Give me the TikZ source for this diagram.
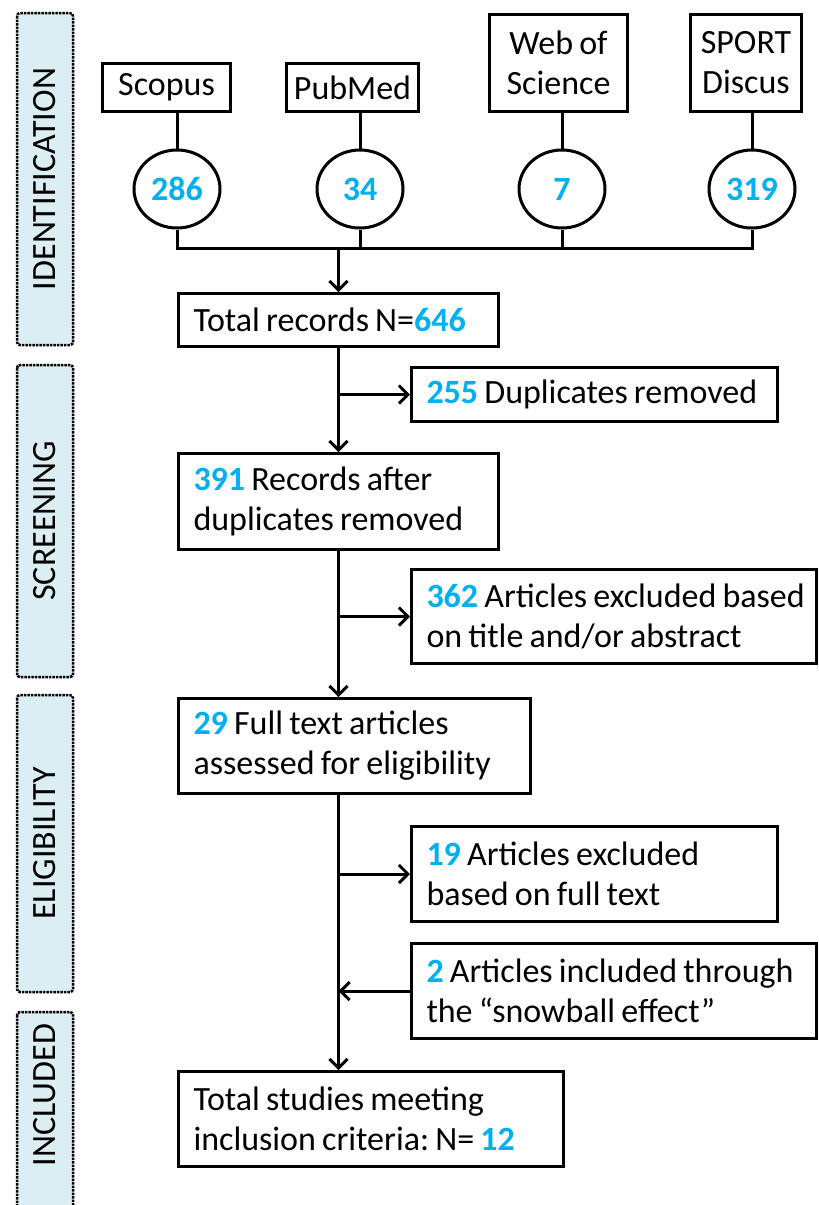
\documentclass[tikz,border=0pt]{standalone}
\usepackage{fontspec}
\setmainfont{Carlito}[WordSpace=0.8]
\frenchspacing
\usetikzlibrary{arrows.meta,shapes.geometric}
\definecolor{numblue}{HTML}{00B0F0}
\definecolor{phasefill}{HTML}{DAEEF3}
\newcommand{\nb}[1]{\textcolor{numblue}{\textbf{#1}}}
\tikzset{
  box/.style={draw, line width=3pt, anchor=north west, inner xsep=15pt, inner ysep=0pt, align=flush left},
  src/.style={draw, line width=3pt, anchor=north west, inner sep=0pt, align=center},
  count/.style={draw, ellipse, line width=3pt, minimum width=86pt, minimum height=78pt, inner sep=0pt},
  phase/.style={draw, densely dotted, line width=2.5pt, fill=phasefill, rounded corners=3pt, rotate=90, inner sep=0pt, font=\fontsize{34}{40}\selectfont},
}
\begin{document}
\begin{tikzpicture}[x=1pt, y=-1pt, line width=3pt, arrows={-Straight Barb[length=9pt,width=18pt]}, font=\fontsize{34}{40}\selectfont]
	\useasboundingbox (0,0) rectangle (819,1205);
	\node[phase, minimum width=332pt, minimum height=56pt] (P1) at (45,179) {IDENTIFICATION};
	\node[phase, minimum width=312pt, minimum height=56pt] (P2) at (45,521) {SCREENING};
	\node[phase, minimum width=297pt, minimum height=56pt] (P3) at (45,843.5) {ELIGIBILITY};
	\node[phase, minimum width=203pt, minimum height=56pt] (P4) at (45,1113.5) {};
	\node[rotate=90, font=\fontsize{34}{40}\selectfont] (P4t) at (45,1095) {INCLUDED};
	\node[src, minimum width=128pt, minimum height=48pt] (scopus) at (101,62) {Scopus};
	\node[src, minimum width=132pt, minimum height=48pt] (pubmed) at (285,62) {PubMed};
	\node[src, minimum width=138pt, minimum height=97pt] (wos) at (488,13) {Web of\\Science};
	\node[src, minimum width=111pt, minimum height=97pt] (sport) at (689,13) {SPORT\\Discus};
	\node[count] (n286) at (177,189) {\nb{286}};
	\node[count] (n34) at (360,189) {\nb{34}};
	\node[count] (n7) at (562,189) {\nb{7}};
	\node[count] (n319) at (752,189) {\nb{319}};
	\node[box, text width=290pt, minimum height=53pt] (total) at (177,292) {Total records N=\nb{646}};
	\node[box, text width=336pt, minimum height=54pt] (dup) at (410,366) {\nb{255} Duplicates removed};
	\node[box, text width=290pt, minimum height=96pt] (after) at (177,452) {\nb{391} Records after\\duplicates removed};
	\node[box, text width=375pt, minimum height=94pt] (title) at (410,568) {\mbox{\nb{362} Articles excluded based}\\on title and/or abstract};
	\node[box, text width=322pt, minimum height=95pt] (full) at (177,697) {\nb{29} Full text articles\\assessed for eligibility};
	\node[box, text width=336pt, minimum height=95pt] (fulltext) at (410,825) {\nb{19} Articles excluded\\based on full text};
	\node[box, text width=375pt, minimum height=95pt] (snow) at (410,942) {\mbox{\nb{2} Articles included through}\\the “snowball effect”};
	\node[box, text width=355pt, minimum height=95pt] (final) at (177,1070) {Total studies meeting\\inclusion criteria: N= \nb{12}};
	\path (total.north) ++(0,-44) coordinate (join);
	\draw[-] (scopus.south -| n286) -- (n286);
	\draw[-] (pubmed.south -| n34) -- (n34);
	\draw[-] (wos.south -| n7) -- (n7);
	\draw[-] (sport.south -| n319) -- (n319);
	\draw[-] (n286.south) |- (join) -| (n319.south);
	\draw[-] (n34.south) -- (n34.south |- join);
	\draw[-] (n7.south) -- (n7.south |- join);
	\draw (join) -- (total.north);
	\draw (total.south) -- (after.north);
	\draw (total.south |- dup.west) -- (dup.west);
	\draw (after.south) -- (after.south |- full.north);
	\draw (after.south |- title.west) -- (title.west);
	\draw (after.south |- full.south) -- (after.south |- final.north);
	\draw (after.south |- fulltext.west) -- (fulltext.west);
	\draw (snow.west) -- (snow.west -| after.south);
\end{tikzpicture}
\end{document}
